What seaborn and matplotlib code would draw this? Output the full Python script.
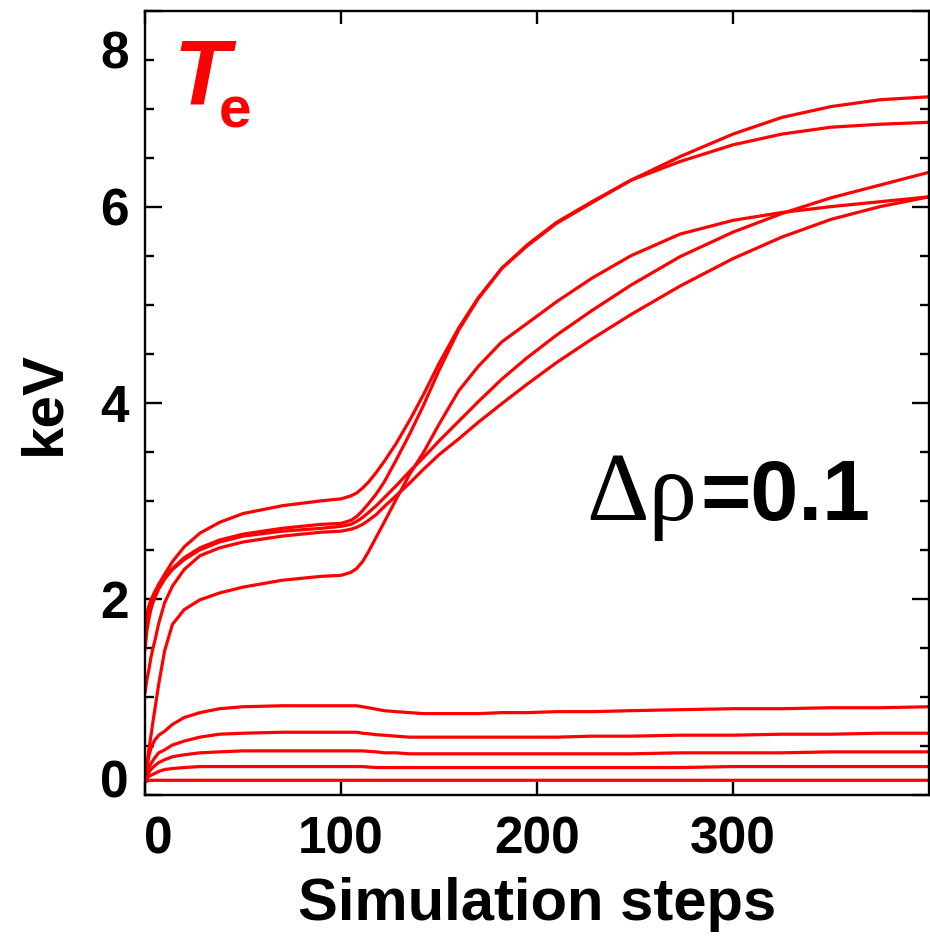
import numpy as np
import pandas as pd
import matplotlib
matplotlib.use("Agg")
import matplotlib.pyplot as plt
import matplotlib.transforms as mtransforms
from matplotlib import font_manager as fm
from matplotlib.ticker import MultipleLocator, FixedLocator, NullLocator
import seaborn as sns

# ---- data: electron temperature (keV) versus simulation step ----
steps = [0, 1, 2, 3, 4, 5, 7, 10, 14, 20, 28, 38, 50, 70, 90, 100, 105, 108,
         111, 114, 118, 122, 128, 135, 142, 150, 160, 170, 182, 195, 210, 228,
         248, 273, 300, 325, 350, 375, 400]

te_r1 = [1.63, 1.80, 1.90, 1.97, 2.02, 2.07, 2.15, 2.25, 2.38, 2.53, 2.67, 2.78,
         2.87, 2.95, 3.00, 3.02, 3.05, 3.08, 3.13, 3.19, 3.29, 3.40, 3.58, 3.82,
         4.08, 4.40, 4.76, 5.07, 5.37, 5.60, 5.83, 6.04, 6.27, 6.46, 6.63, 6.74,
         6.81, 6.84, 6.86]
te_r2 = [1.71, 1.85, 1.93, 1.99, 2.03, 2.07, 2.14, 2.22, 2.31, 2.42, 2.52, 2.60,
         2.66, 2.72, 2.76, 2.77, 2.80, 2.84, 2.90, 2.97, 3.07, 3.19, 3.41, 3.68,
         3.97, 4.33, 4.74, 5.06, 5.37, 5.61, 5.84, 6.05, 6.27, 6.51, 6.74, 6.91,
         7.02, 7.09, 7.12]
te_r3 = [1.48, 1.68, 1.80, 1.89, 1.96, 2.01, 2.10, 2.20, 2.30, 2.40, 2.50, 2.58,
         2.64, 2.69, 2.72, 2.74, 2.76, 2.79, 2.83, 2.88, 2.95, 3.03, 3.15, 3.30,
         3.44, 3.61, 3.81, 4.01, 4.24, 4.46, 4.69, 4.94, 5.20, 5.49, 5.74, 5.93,
         6.09, 6.22, 6.35]
te_r4 = [1.04, 1.18, 1.28, 1.40, 1.49, 1.57, 1.75, 1.96, 2.13, 2.30, 2.44, 2.52,
         2.58, 2.64, 2.68, 2.69, 2.71, 2.73, 2.76, 2.80, 2.86, 2.94, 3.05, 3.18,
         3.32, 3.47, 3.63, 3.80, 3.99, 4.19, 4.41, 4.65, 4.90, 5.19, 5.47, 5.69,
         5.87, 6.00, 6.10]
te_r5 = [0.15, 0.32, 0.47, 0.60, 0.74, 0.87, 1.13, 1.47, 1.74, 1.89, 1.99, 2.06,
         2.12, 2.19, 2.23, 2.24, 2.27, 2.31, 2.38, 2.48, 2.63, 2.78, 3.01, 3.27,
         3.49, 3.78, 4.12, 4.37, 4.62, 4.81, 5.03, 5.27, 5.50, 5.72, 5.86, 5.94,
         6.00, 6.05, 6.10]
te_r6 = [0.15, 0.28, 0.40, 0.47, 0.52, 0.56, 0.61, 0.65, 0.72, 0.79, 0.84, 0.88,
         0.90, 0.91, 0.91, 0.91, 0.91, 0.91, 0.90, 0.89, 0.875, 0.86, 0.85, 0.84,
         0.83, 0.83, 0.83, 0.83, 0.84, 0.84, 0.85, 0.85, 0.86, 0.87, 0.88, 0.88,
         0.89, 0.89, 0.90]
te_r7 = [0.15, 0.22, 0.28, 0.32, 0.35, 0.38, 0.43, 0.46, 0.51, 0.55, 0.59, 0.62,
         0.63, 0.64, 0.64, 0.64, 0.64, 0.64, 0.63, 0.625, 0.615, 0.61, 0.60, 0.59,
         0.59, 0.59, 0.59, 0.59, 0.59, 0.59, 0.59, 0.60, 0.60, 0.61, 0.61, 0.62,
         0.62, 0.63, 0.63]
te_r8 = [0.15, 0.19, 0.23, 0.26, 0.28, 0.30, 0.33, 0.36, 0.39, 0.41, 0.43, 0.44,
         0.45, 0.45, 0.45, 0.45, 0.45, 0.45, 0.45, 0.445, 0.44, 0.43, 0.43, 0.42,
         0.42, 0.42, 0.42, 0.42, 0.42, 0.42, 0.42, 0.42, 0.42, 0.43, 0.43, 0.43,
         0.44, 0.44, 0.44]
te_r9 = [0.15, 0.17, 0.19, 0.20, 0.21, 0.22, 0.24, 0.26, 0.27, 0.28, 0.29, 0.29,
         0.29, 0.29, 0.29, 0.29, 0.29, 0.29, 0.29, 0.285, 0.28, 0.28, 0.28, 0.28,
         0.28, 0.28, 0.28, 0.28, 0.28, 0.28, 0.28, 0.28, 0.28, 0.28, 0.29, 0.29,
         0.29, 0.29, 0.29]
te_r10 = [0.14, 0.14, 0.15, 0.15, 0.15, 0.15, 0.15, 0.15, 0.15, 0.15, 0.15, 0.15,
          0.15, 0.15, 0.15, 0.15, 0.15, 0.15, 0.15, 0.15, 0.15, 0.15, 0.15, 0.15,
          0.15, 0.15, 0.15, 0.15, 0.15, 0.15, 0.15, 0.15, 0.15, 0.15, 0.15, 0.15,
          0.15, 0.15, 0.15]

curves = [te_r1, te_r2, te_r3, te_r4, te_r5, te_r6, te_r7, te_r8, te_r9, te_r10]

x_ticks = [0, 100, 200, 300]
y_ticks = [0, 2, 4, 6, 8]

# ---- fonts ----
sns.set_theme(style="white")
names = {f.name for f in fm.fontManager.ttflist}
NARROW = "Liberation Sans Narrow" if "Liberation Sans Narrow" in names else "Liberation Sans"
FAM = [NARROW, "DejaVu Sans"]
plt.rcParams["font.family"] = FAM

long = pd.DataFrame({
    "step": np.tile(steps, len(curves)),
    "Te": np.concatenate([np.asarray(c, float) for c in curves]),
    "curve": np.repeat(np.arange(len(curves)), len(steps)),
})

fig = plt.figure(figsize=(9.3, 9.49), dpi=100)
W, H = 930, 949
ax = fig.add_axes([145 / W, 1 - 795 / H, (929 - 145) / W, (795 - 10.5) / H])

sns.lineplot(data=long, x="step", y="Te", units="curve", estimator=None,
             color="#ff0000", linewidth=2.3, ax=ax, legend=False)

ax.set_xlim(0, 400)
ax.set_ylim(0, 8)

for s in ax.spines.values():
    s.set_visible(True)
    s.set_color("black")
    s.set_linewidth(1.7)

ax.xaxis.set_major_locator(FixedLocator(x_ticks))
ax.xaxis.set_minor_locator(NullLocator())
ax.yaxis.set_major_locator(FixedLocator(y_ticks))
ax.yaxis.set_minor_locator(MultipleLocator(0.5))
ax.set_xticklabels([str(v) for v in x_ticks])
ax.set_yticklabels([str(v) for v in y_ticks])

ax.tick_params(which="both", direction="in", top=True, right=True,
               bottom=True, left=True, color="black", width=1.7)
ax.tick_params(axis="x", which="major", length=9.5, pad=15)
ax.tick_params(axis="y", which="major", length=12, pad=11.5)
ax.tick_params(axis="y", which="minor", length=6.5)

TICK_SIZE = 37
for lab in ax.get_xticklabels() + ax.get_yticklabels():
    lab.set_fontfamily(FAM)
    lab.set_fontweight("bold")
    lab.set_fontsize(TICK_SIZE)
    lab.set_color("black")

ax.set_xlabel("Simulation steps", fontsize=43, fontweight="bold", labelpad=9,
              color="black")
ax.set_ylabel("keV", fontsize=42, fontweight="bold", labelpad=21,
              color="black")

# pull the end labels of each axis inward
fig.canvas.draw()
def shift(label, dx_px, dy_px):
    off = mtransforms.ScaledTranslation(dx_px / 100, dy_px / 100, fig.dpi_scale_trans)
    label.set_transform(label.get_transform() + off)

yt = ax.yaxis.get_major_ticks()
xt = ax.xaxis.get_major_ticks()
shift(yt[-1].label1, 0, -39)
shift(yt[0].label1, 0, 17)
shift(xt[0].label1, 13, 0)

# annotations
ax.text((174 - 145) / 784, (795 - 104) / 784.5, "T", transform=ax.transAxes,
        fontsize=66, fontweight="bold", fontstyle="italic", color="#ff0000",
        ha="left", va="baseline", family=FAM)
ax.text((219 - 145) / 784, (795 - 128) / 784.5, "e", transform=ax.transAxes,
        fontsize=42, fontweight="bold", color="#ff0000",
        ha="left", va="baseline", family=FAM)
ax.text((586 - 145) / 784, (795 - 520) / 784.5, "\u0394\u03c1", transform=ax.transAxes,
        fontsize=70, color="black", ha="left", va="baseline",
        family=["Liberation Serif", "DejaVu Serif"])
ax.text((870 - 145) / 784, (795 - 520) / 784.5, "=0.1", transform=ax.transAxes,
        fontsize=62, fontweight="bold", color="black", ha="right", va="baseline",
        family=FAM)

fig.savefig("out.png", dpi=100)
